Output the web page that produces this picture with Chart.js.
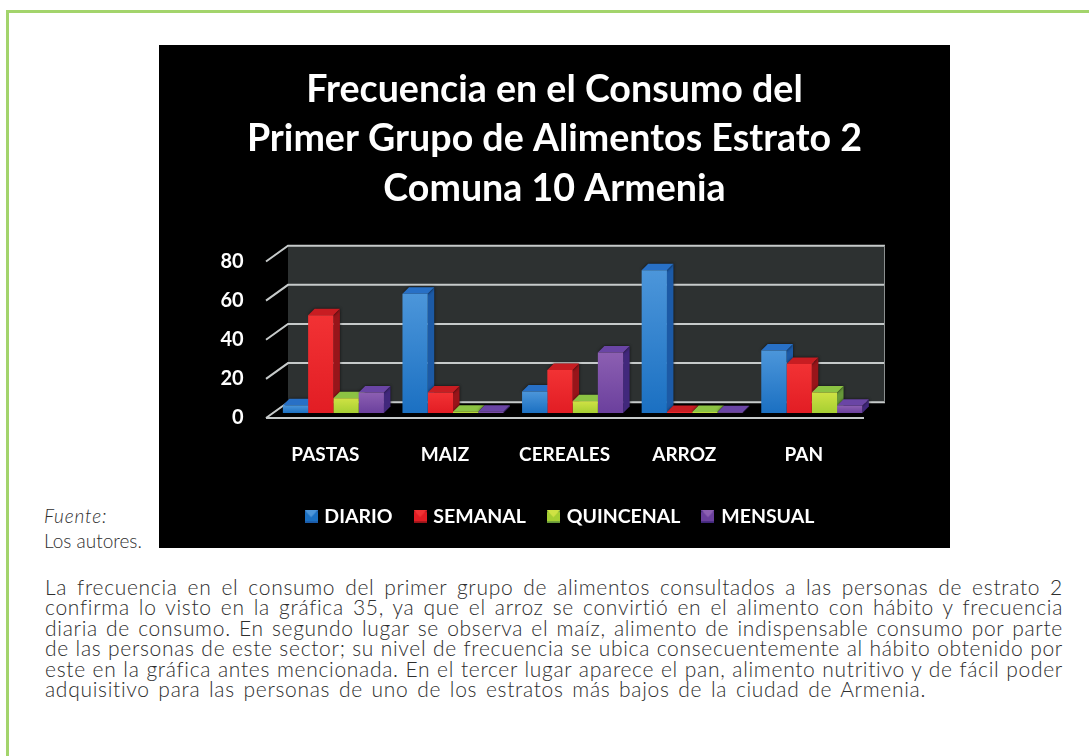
<!DOCTYPE html>
<html>
<head>
<meta charset="utf-8">
<script src="https://cdn.jsdelivr.net/npm/chart.js@4"></script>
<style>
  html, body { margin: 0; padding: 0; background: #fff; }
  body { width: 1089px; height: 756px; position: relative; overflow: hidden; font-family: Lato, sans-serif; color: #2e2e2e; }
  #frame { position: absolute; left: 6px; top: 10px; width: 1100px; height: 743px; border: 3px solid #a3d46c; border-right: 0; border-bottom: 0; }
  #box { position: absolute; left: 159px; top: 45px; width: 791px; height: 503px; }
  #fuente { position: absolute; left: 44px; top: 503px; font-size: 19px; line-height: 25px; font-weight: 300; }
  #fuente i { display: block; letter-spacing: .85px; }
  #texto { position: absolute; left: 45px; top: 577px; width: 1018px; font-size: 21px; line-height: 20.4px; font-weight: 300; letter-spacing: .7px; }
  #texto div { text-align: justify; text-align-last: justify; white-space: nowrap; }
  #texto div.ultima { text-align-last: left; word-spacing: 2.3px; }
</style>
</head>
<body>
<div id="frame"></div>
<div id="box"><canvas id="grafica" width="791" height="503"></canvas></div>
<div id="fuente"><i>Fuente:</i>Los autores.</div>
<div id="texto">
  <div>La frecuencia en el consumo del primer grupo de alimentos consultados a las personas de estrato 2</div>
  <div>confirma lo visto en la gráfica 35, ya que el arroz se convirtió en el alimento con hábito y frecuencia</div>
  <div>diaria de consumo. En segundo lugar se observa el maíz, alimento de indispensable consumo por parte</div>
  <div>de las personas de este sector; su nivel de frecuencia se ubica consecuentemente al hábito obtenido por</div>
  <div>este en la gráfica antes mencionada. En el tercer lugar aparece el pan, alimento nutritivo y de fácil poder</div>
  <div class="ultima">adquisitivo para las personas de uno de los estratos más bajos de la ciudad de Armenia.</div>
</div>
<script>
const categorias = ['PASTAS', 'MAIZ', 'CEREALES', 'ARROZ', 'PAN'];
const diario = [4, 61, 11, 73, 32];
const semanal = [50, 10.5, 22, 0.5, 25];
const quincenal = [7.5, 0.7, 6, 0.5, 10.5];
const mensual = [10.5, 0.7, 31, 0.4, 3.7];
const titulo = ['Frecuencia en el Consumo del', 'Primer Grupo de Alimentos Estrato 2', 'Comuna 10 Armenia'];

// colores de cada serie: arriba y abajo del frente, costado, tapa
const colores = {
  DIARIO: { alto: '#4c96da', bajo: '#1b70c2', lado: '#1c5aa6', tapa: '#2870c6' },
  SEMANAL: { alto: '#f23234', bajo: '#e21d24', lado: '#98151a', tapa: '#c81d22' },
  QUINCENAL: { alto: '#cfe244', bajo: '#a6cf32', lado: '#67983a', tapa: '#8cc343' },
  MENSUAL: { alto: '#8c5fb2', bajo: '#6b409d', lado: '#41287c', tapa: '#6a45a5' }
};

const fondo = 5;      // las etiquetas y el piso delantero quedan mas abajo que la base de las barras
const pared = 10.8;   // la pared del fondo queda mas arriba
const prof = 6.5;     // profundidad de cada barra

function relleno(nombre) {
  return ctx => {
    const c = colores[nombre];
    const { chart, parsed } = ctx;
    if (!chart.chartArea || !parsed) return c.bajo;
    const y = chart.scales.y;
    const g = chart.ctx.createLinearGradient(0, y.getPixelForValue(parsed.y), 0, y.getPixelForValue(0));
    g.addColorStop(0, c.alto);
    g.addColorStop(1, c.bajo);
    return g;
  };
}

// cuadrito del legend con cuatro caras, como en el original
function icono(nombre) {
  const c = colores[nombre];
  const cv = document.createElement('canvas');
  cv.width = 13; cv.height = 13;
  const g = cv.getContext('2d');
  g.fillStyle = c.lado;
  g.fillRect(0, 0, 13, 13);
  g.fillStyle = c.bajo;
  g.fillRect(0, 2, 13, 9);
  g.fillStyle = c.alto;
  g.beginPath();
  g.moveTo(0, 0); g.lineTo(13, 0); g.lineTo(6.5, 7); g.closePath();
  g.fill();
  return cv;
}

const decorado = {
  id: 'decorado',
  afterLayout(chart) {
    // el legend del original no esta centrado
    const l = chart.legend;
    const alto = l.height;
    l.left += 6.5; l.right += 6.5;
    l.top = 438; l.bottom = 438 + alto;
  },
  beforeDraw(chart) {
    const g = chart.ctx;
    g.save();
    g.fillStyle = '#000';
    g.fillRect(0, 0, chart.width, chart.height);
    g.restore();
  },
  beforeDatasetsDraw(chart) {
    const g = chart.ctx;
    const { y } = chart.scales;
    const izq = 129, der = 726, frente = 107, finPiso = 705;
    g.save();
    // pared del fondo
    g.fillStyle = '#2d3131';
    g.fillRect(izq, y.getPixelForValue(80) - pared, der - izq, y.getPixelForValue(0) - y.getPixelForValue(80));
    // lineas de la reja
    g.strokeStyle = '#c6caca';
    g.lineWidth = 2;
    [0, 20, 40, 60, 80].forEach(v => {
      const p = y.getPixelForValue(v);
      g.beginPath();
      g.moveTo(frente, p + fondo);
      g.lineTo(izq, p - pared);
      g.lineTo(der, p - pared);
      g.stroke();
    });
    g.beginPath();
    g.moveTo(frente, y.getPixelForValue(0) + fondo);
    g.lineTo(finPiso, y.getPixelForValue(0) + fondo);
    g.stroke();
    g.strokeStyle = '#8b8f8f';
    g.lineWidth = 1;
    g.beginPath();
    g.moveTo(der - 0.5, y.getPixelForValue(80) - pared);
    g.lineTo(der - 0.5, y.getPixelForValue(0) - pared);
    g.stroke();
    // costado y tapa de cada barra, antes del frente
    g.shadowColor = 'rgba(0,0,0,0.7)';
    g.shadowBlur = 3;
    chart.data.datasets.forEach((ds, i) => {
      const c = colores[ds.label];
      chart.getDatasetMeta(i).data.forEach(b => {
        const l = b.x - b.width / 2, r = b.x + b.width / 2;
        g.fillStyle = c.lado;
        g.beginPath();
        g.moveTo(r, b.y); g.lineTo(r + prof, b.y - prof); g.lineTo(r + prof, b.base - prof); g.lineTo(r, b.base);
        g.closePath();
        g.fill();
        g.fillStyle = c.tapa;
        g.beginPath();
        g.moveTo(l, b.y); g.lineTo(l + prof, b.y - prof); g.lineTo(r + prof, b.y - prof); g.lineTo(r, b.y);
        g.closePath();
        g.fill();
      });
    });
    g.restore();
  }
};

function serie(nombre, valores) {
  return {
    label: nombre,
    data: valores,
    backgroundColor: relleno(nombre),
    borderWidth: 0,
    categoryPercentage: 0.845,
    barPercentage: 1
  };
}

new Chart(document.getElementById('grafica'), {
  type: 'bar',
  data: {
    labels: categorias,
    datasets: [
      serie('DIARIO', diario),
      serie('SEMANAL', semanal),
      serie('QUINCENAL', quincenal),
      serie('MENSUAL', mensual)
    ]
  },
  plugins: [decorado],
  options: {
    responsive: false,
    animation: false,
    plugins: {
      tooltip: { enabled: false },
      title: {
        display: true,
        text: titulo,
        color: '#fff',
        font: { family: 'Lato', size: 37.6, weight: 'bold', lineHeight: 1.317 },
        padding: { top: 20, bottom: 43 }
      },
      legend: {
        position: 'bottom',
        onClick: null,
        labels: {
          color: '#fff',
          font: { family: 'Lato', size: 19.5, weight: 'bold' },
          usePointStyle: true,
          boxWidth: 7,
          padding: 24,
          generateLabels(chart) {
            const items = Chart.defaults.plugins.legend.labels.generateLabels(chart);
            items.forEach(it => { it.pointStyle = icono(it.text); });
            return items;
          }
        }
      }
    },
    scales: {
      x: {
        grid: { display: false },
        border: { display: false },
        ticks: { color: '#fff', font: { family: 'Lato', size: 19, weight: 'bold' }, padding: 22, labelOffset: -8, maxRotation: 0 },
        afterFit(s) { s.height = 135 - s.chart.legend.height; }
      },
      y: {
        min: 0,
        max: 80,
        grid: { display: false },
        border: { display: false },
        ticks: { stepSize: 20, color: '#fff', font: { family: 'Lato', size: 20, weight: 'bold' }, padding: 22, labelOffset: fondo },
        afterFit(s) { s.width = 114.6; }
      },
      // solo reserva el margen derecho sin mover titulo ni legend
      margen: {
        type: 'linear',
        position: 'right',
        grid: { display: false },
        border: { display: false },
        ticks: { display: false },
        afterFit(s) { s.width = 78.4; }
      }
    }
  }
});
</script>
</body>
</html>
